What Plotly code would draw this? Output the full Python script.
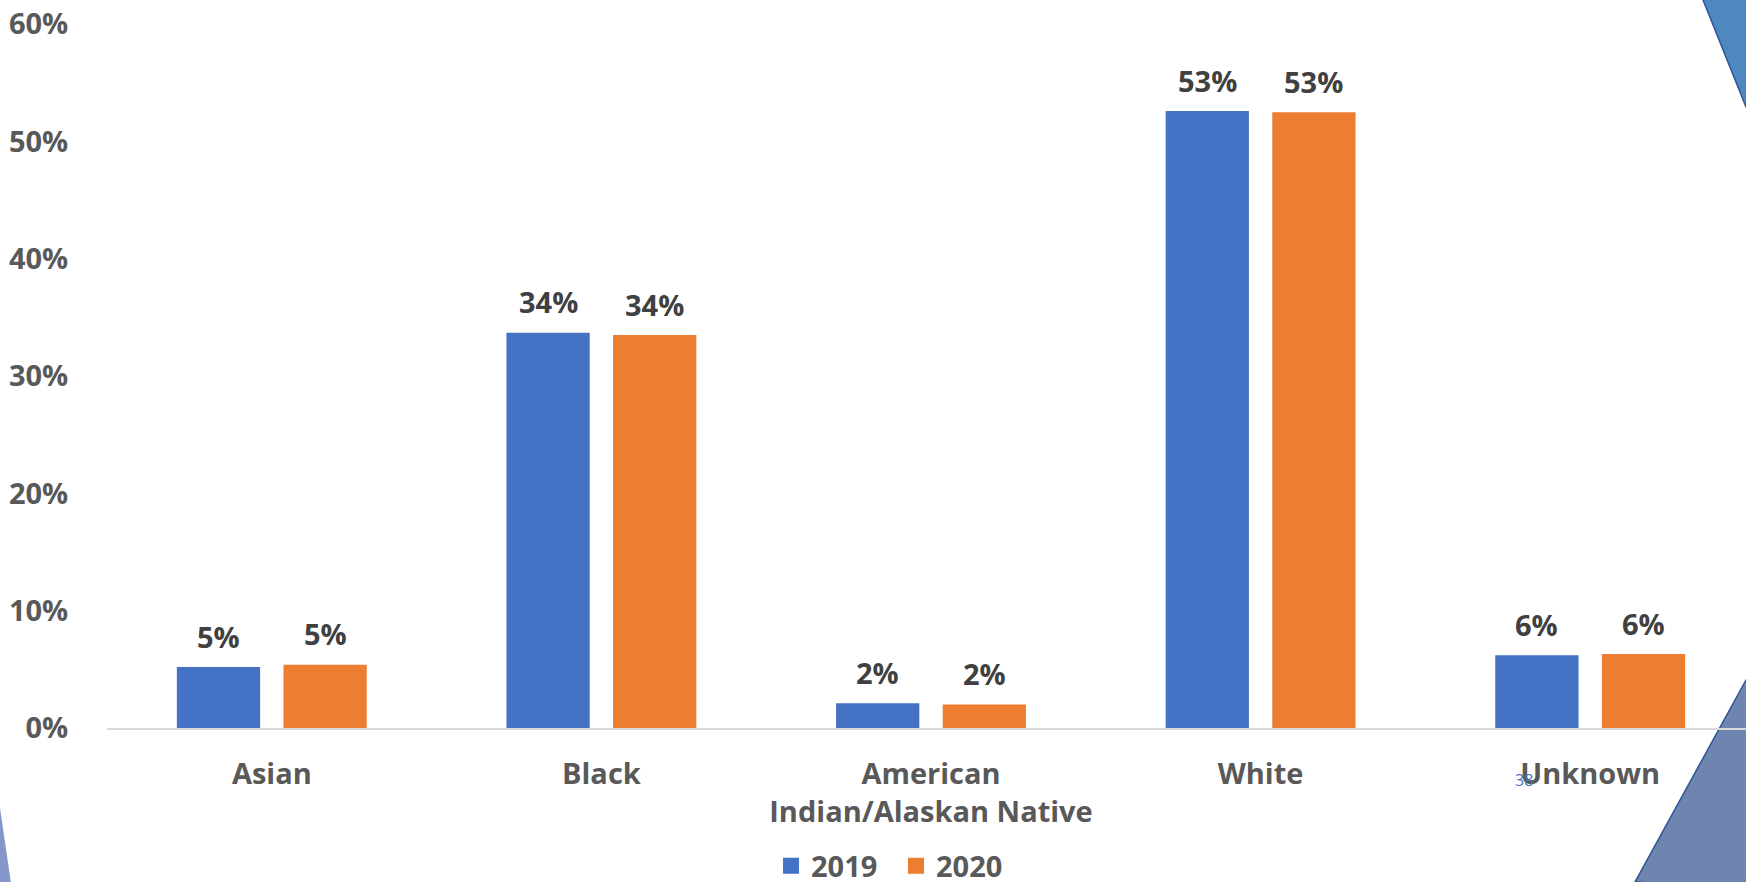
import math
import plotly.graph_objects as go

categories = ["Asian", "Black", "American<br>Indian/Alaskan Native", "White", "Unknown"]
values_2019 = [0.052, 0.337, 0.021, 0.526, 0.062]
values_2020 = [0.054, 0.335, 0.020, 0.525, 0.063]
series_names = ["2019", "2020"]
colors = ["#4472C4", "#ED7D31"]

W, H = 1746, 882
L, R, T, B = 107, 0, 10, 154
plot_w = W - L - R
plot_h = H - T - B
cat_px = 329.6
bar_offset = 53.3


def px(x):
    return (x - L) / plot_w


def py(y):
    return (H - B - y) / plot_h


def pct(v):
    return f"{math.floor(v * 100 + 0.5 + 1e-9)}%"


label_font = dict(family="Open Sans", size=29, color="#404040", weight=700)
axis_font = dict(family="Open Sans", size=29, color="#595959", weight=700)

fig = go.Figure()
annotations = []
for i, (name, vals, col) in enumerate(zip(series_names, [values_2019, values_2020], colors)):
    fig.add_trace(go.Bar(
        x=categories, y=vals, name=name,
        marker=dict(color=col, line=dict(width=0)),
        showlegend=False,
    ))
    # legend proxy
    fig.add_trace(go.Scatter(
        x=[None], y=[None], name=name, mode="markers",
        marker=dict(symbol="square", size=18, color=col),
        showlegend=True,
    ))
    shift = -bar_offset if i == 0 else bar_offset
    for c, v in zip(categories, vals):
        annotations.append(dict(
            x=c, y=v, xref="x", yref="y", text=pct(v), showarrow=False,
            xshift=shift, yshift=31, xanchor="center", yanchor="middle",
            font=label_font,
        ))

annotations.append(dict(text="38", xref="paper", yref="paper", x=px(1524), y=py(780),
                        showarrow=False, font=dict(family="Open Sans", size=16, color="#4472C4"),
                        xanchor="center", yanchor="middle"))

shapes = [
    # top-right decoration
    dict(type="path", xref="paper", yref="paper",
         path=f"M{px(1703)},{py(0)} L{px(1746)},{py(107)} L{px(1760)},{py(107)} L{px(1760)},{py(-5)} L{px(1703)},{py(-5)} Z",
         fillcolor="#4F87BF", line=dict(color="#2F5597", width=1.5), layer="below"),
    # bottom-right decoration
    dict(type="path", xref="paper", yref="paper",
         path=f"M{px(1746)},{py(680)} L{px(1635)},{py(882)} L{px(1760)},{py(890)} L{px(1760)},{py(680)} Z",
         fillcolor="#6E86AF", line=dict(color="#2F5597", width=1.5), layer="below"),
    # bottom-left decoration
    dict(type="path", xref="paper", yref="paper",
         path=f"M{px(-5)},{py(808)} L{px(0)},{py(808)} L{px(12)},{py(890)} L{px(-5)},{py(890)} Z",
         fillcolor="#8497C8", line=dict(width=0), layer="below"),
]

fig.update_layout(
    width=W, height=H,
    margin=dict(l=L, r=R, t=T, b=B, autoexpand=False),
    paper_bgcolor="white", plot_bgcolor="white",
    barmode="group", bargap=0.353, bargroupgap=0.219,
    showlegend=True,
    legend=dict(orientation="h", x=px(896), y=py(866), xanchor="center", yanchor="middle",
                font=axis_font, itemwidth=30, entrywidth=80,
                bgcolor="rgba(0,0,0,0)"),
    shapes=shapes,
    annotations=annotations,
    font=dict(family="Open Sans"),
)

fig.update_xaxes(
    type="category", range=[-0.5, -0.5 + plot_w / cat_px],
    showline=True, linecolor="#D9D9D9", linewidth=2,
    showgrid=False, zeroline=False,
    ticks="outside", ticklen=19, tickcolor="rgba(0,0,0,0)",
    tickfont=axis_font,
)
fig.update_yaxes(
    range=[0, plot_h / 1173.0], tickvals=[0, 0.1, 0.2, 0.3, 0.4, 0.5, 0.6],
    tickformat=".0%", showgrid=False, zeroline=False, showline=False,
    ticks="outside", ticklen=32, tickcolor="rgba(0,0,0,0)",
    tickfont=axis_font,
)

fig.write_html(
    "out.html",
    config={"displayModeBar": False},
    post_script="document.body.style.margin='0';document.body.style.overflow='hidden';",
)
